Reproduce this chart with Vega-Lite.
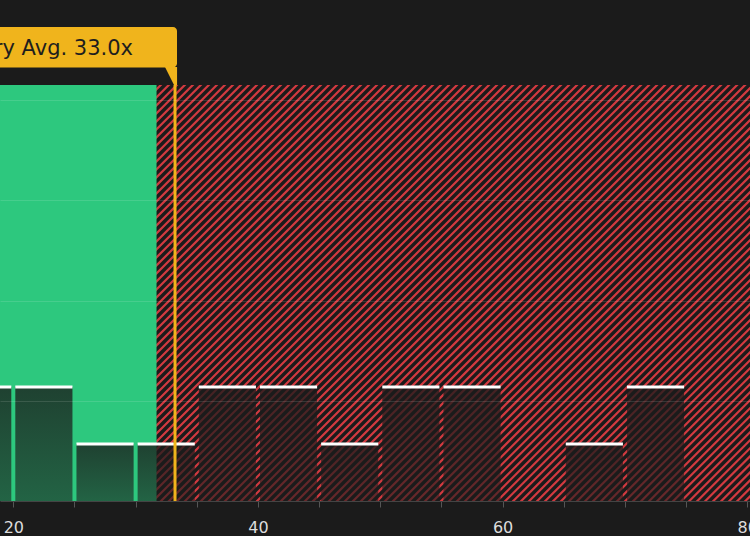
{
  "$schema": "https://vega.github.io/schema/vega-lite/v6.json",
  "width": 750,
  "height": 416,
  "autosize": {"type": "none"},
  "padding": {"top": 85, "left": 0, "right": 0, "bottom": 35},
  "background": "#1b1b1b",
  "config": {"view": {"stroke": null}, "font": "DejaVu Sans"},
  "datasets": {
    "bins": [
      {"start": 15, "end": 20, "count": 2},
      {"start": 20, "end": 25, "count": 2},
      {"start": 25, "end": 30, "count": 1},
      {"start": 30, "end": 35, "count": 1},
      {"start": 35, "end": 40, "count": 2},
      {"start": 40, "end": 45, "count": 2},
      {"start": 45, "end": 50, "count": 1},
      {"start": 50, "end": 55, "count": 2},
      {"start": 55, "end": 60, "count": 2},
      {"start": 65, "end": 70, "count": 1},
      {"start": 70, "end": 75, "count": 2}
    ]
  },
  "layer": [
    {
      "data": {"values": [{}]},
      "mark": {"type": "rule", "clip": true, "stroke": "#d23a40", "strokeWidth": 1200, "strokeDash": [2.2, 3.46], "strokeCap": "butt"},
      "encoding": {
        "x": {
          "datum": 16.87, "type": "quantitative",
          "scale": {"domain": [18.913, 80.224], "nice": false, "zero": false},
          "axis": {
            "values": [20, 25, 30, 35, 40, 45, 50, 55, 60, 65, 70, 75, 80],
            "labelExpr": "datum.value % 20 === 0 ? datum.label : ''",
            "title": null, "grid": false, "zindex": 1,
            "tickSize": 6, "tickColor": "#555555", "domainColor": "#444444",
            "labelColor": "#dddddd", "labelFontSize": 16, "labelPadding": 12,
            "labelFont": "DejaVu Sans", "labelFlush": false, "labelOverlap": false
          }
        },
        "y": {
          "datum": 10.669, "type": "quantitative",
          "scale": {"domain": [0, 7.3], "nice": false, "zero": false},
          "axis": {
            "values": [1.755, 3.51, 5.282, 7.037],
            "labels": false, "ticks": false, "domain": false, "title": null,
            "grid": true, "gridColor": "#ffffff", "gridOpacity": 0.12, "zindex": 1
          }
        },
        "x2": {"datum": 82.266},
        "y2": {"datum": -3.369}
      }
    },
    {
      "data": {"values": [{}]},
      "mark": {"type": "rect", "fill": "#2dc87e"},
      "encoding": {
        "x": {"datum": 15, "type": "quantitative"},
        "x2": {"datum": 31.71},
        "y": {"datum": 0, "type": "quantitative"},
        "y2": {"datum": 7.3}
      }
    },
    {
      "data": {"name": "bins"},
      "mark": {
        "type": "rect", "xOffset": 2, "x2Offset": -2,
        "fill": {
          "gradient": "linear", "x1": 0, "y1": 0, "x2": 0, "y2": 1,
          "stops": [
            {"offset": 0, "color": "rgba(27,27,27,0.78)"},
            {"offset": 1, "color": "rgba(27,27,27,0.58)"}
          ]
        }
      },
      "encoding": {
        "x": {"field": "start", "type": "quantitative"},
        "x2": {"field": "end"},
        "y": {"field": "count", "type": "quantitative"},
        "y2": {"datum": 0}
      }
    },
    {
      "data": {"name": "bins"},
      "mark": {"type": "rule", "stroke": "#ffffff", "strokeWidth": 3, "xOffset": 2, "x2Offset": -2},
      "encoding": {
        "x": {"field": "start", "type": "quantitative"},
        "x2": {"field": "end"},
        "y": {"field": "count", "type": "quantitative"}
      }
    },
    {
      "data": {"values": [{}]},
      "mark": {"type": "rule", "stroke": "#f0b41c", "strokeWidth": 3},
      "encoding": {
        "x": {"datum": 33.22, "type": "quantitative"},
        "y": {"datum": 0, "type": "quantitative"},
        "y2": {"datum": 7.3}
      }
    },
    {
      "data": {"values": [{}]},
      "mark": {"type": "rect", "fill": "#f0b41c", "cornerRadius": 4, "x2Offset": 2},
      "encoding": {
        "x": {"datum": 5, "type": "quantitative"},
        "x2": {"datum": 33.22},
        "y": {"datum": 8.316, "type": "quantitative"},
        "y2": {"datum": 7.605}
      }
    },
    {
      "data": {"values": [{}]},
      "mark": {"type": "point", "filled": true, "fill": "#f0b41c", "opacity": 1, "strokeWidth": 0, "size": 324, "xOffset": -4, "shape": "M-0.67,-1L0.67,-1L0.67,1L0.33,1Z"},
      "encoding": {
        "x": {"datum": 33.22, "type": "quantitative"},
        "y": {"datum": 7.458, "type": "quantitative"}
      }
    },
    {
      "data": {"values": [{}]},
      "mark": {"type": "text", "text": "Industry Avg. 33.0x", "align": "right", "baseline": "alphabetic", "dx": -42, "fontSize": 21, "font": "DejaVu Sans", "fill": "#1e1e1e"},
      "encoding": {
        "x": {"datum": 33.22, "type": "quantitative"},
        "y": {"datum": 7.826, "type": "quantitative"}
      }
    }
  ]
}
